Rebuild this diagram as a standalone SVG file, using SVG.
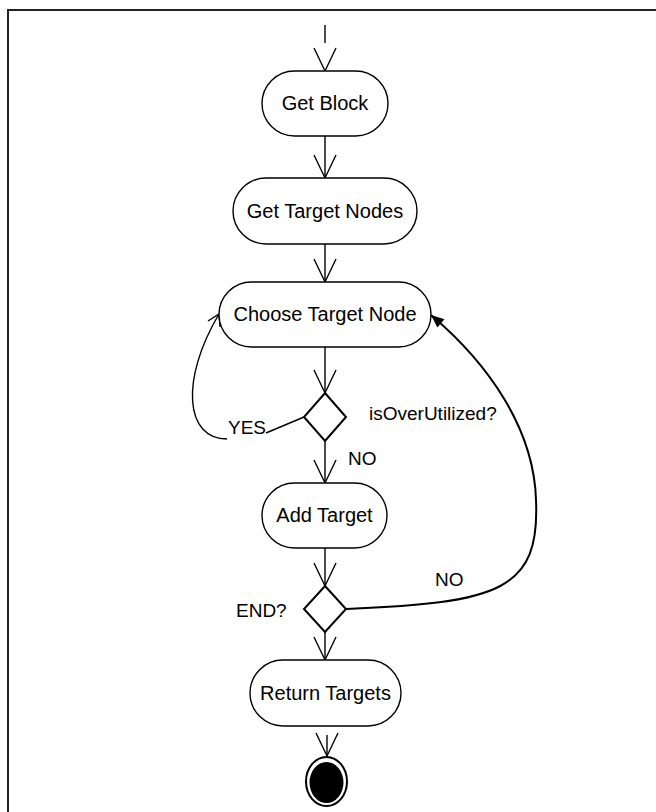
<svg xmlns="http://www.w3.org/2000/svg" width="656" height="812" viewBox="0 0 656 812">
<style>
.pill{fill:#fff;stroke:#000;stroke-width:1.4}
.dia{fill:#fff;stroke:#000;stroke-width:2}
.t{font-family:"Liberation Sans",Arial,sans-serif;font-size:20px;fill:#000;text-anchor:middle}
.l{font-family:"Liberation Sans",Arial,sans-serif;font-size:19px;fill:#000}
.c{fill:none;stroke:#000;stroke-width:1.4}
.c2{fill:none;stroke:#000;stroke-width:2}
</style>
<defs>
<marker id="open" markerUnits="userSpaceOnUse" viewBox="-26 -13 28 26" refX="0" refY="0" markerWidth="28" markerHeight="26" orient="auto">
<path d="M-23,-11 L0,0 L-23,11" fill="none" stroke="#000" stroke-width="1.4"/>
</marker>
<marker id="filled" markerUnits="userSpaceOnUse" viewBox="-14 -7 16 14" refX="0" refY="0" markerWidth="16" markerHeight="14" orient="auto">
<path d="M0,0 L-13,-5.5 L-13,5.5 z" fill="#000"/>
</marker>
</defs>
<rect width="656" height="812" fill="#fff"/>
<g id="frame">
<path d="M8,812 V10 H656" fill="none" stroke="#222" stroke-width="2"/>
</g>
<g id="connectors">
<path class="c" d="M325,25 V43"/>
<path class="c" d="M314,48 L325,71 L336,48"/>
<path class="c" d="M325,136 V178" marker-end="url(#open)"/>
<path class="c" d="M325,244 V282" marker-end="url(#open)"/>
<path class="c" d="M325,347 V393" marker-end="url(#open)"/>
<path class="c" d="M325,441 V483" marker-end="url(#open)"/>
<path class="c" d="M325,548 V586" marker-end="url(#open)"/>
<path class="c" d="M325,632 V660" marker-end="url(#open)"/>
<path class="c" d="M327,735 V756" marker-end="url(#open)"/>
<path class="c" d="M304,417 L266,433"/>
<path class="c" d="M227,439 C185,439 180,380 219,314"/>
<path class="c" d="M208,321 L219,314 L220,327"/>
<path class="c2" d="M346,609 C500,603 540,590 536,500 C534,430 490,365 431,315" marker-end="url(#filled)"/>
</g>
<g id="get-block">
<rect class="pill" x="262" y="71" width="126" height="65" rx="32.5"/>
<text class="t" x="325" y="110">Get Block</text>
</g>
<g id="get-target-nodes">
<rect class="pill" x="233" y="178" width="184" height="66" rx="33"/>
<text class="t" x="325" y="218">Get Target Nodes</text>
</g>
<g id="choose-target-node">
<rect class="pill" x="219" y="282" width="212" height="65" rx="32.5"/>
<text class="t" x="325" y="321">Choose Target Node</text>
</g>
<g id="decision-overutilized">
<path class="dia" d="M325,393 L346,417 L325,441 L304,417 Z"/>
<text class="l" x="369" y="420">isOverUtilized?</text>
<text class="l" x="228" y="434">YES</text>
<text class="l" x="348" y="465">NO</text>
</g>
<g id="add-target">
<rect class="pill" x="262" y="483" width="125" height="65" rx="32.5"/>
<text class="t" x="324.5" y="522">Add Target</text>
</g>
<g id="decision-end">
<path class="dia" d="M325,586 L346,609 L325,632 L304,609 Z"/>
<text class="l" x="236" y="617" font-size="18">END?</text>
<text class="l" x="435" y="586">NO</text>
</g>
<g id="return-targets">
<rect class="pill" x="250" y="660" width="151" height="66" rx="33"/>
<text class="t" x="325.5" y="700">Return Targets</text>
</g>
<g id="final-node">
<ellipse cx="326.5" cy="781.5" rx="20.5" ry="24.5" fill="#fff" stroke="#000" stroke-width="2"/>
<ellipse cx="326.5" cy="782.5" rx="17" ry="20.5" fill="#000"/>
</g>
</svg>
